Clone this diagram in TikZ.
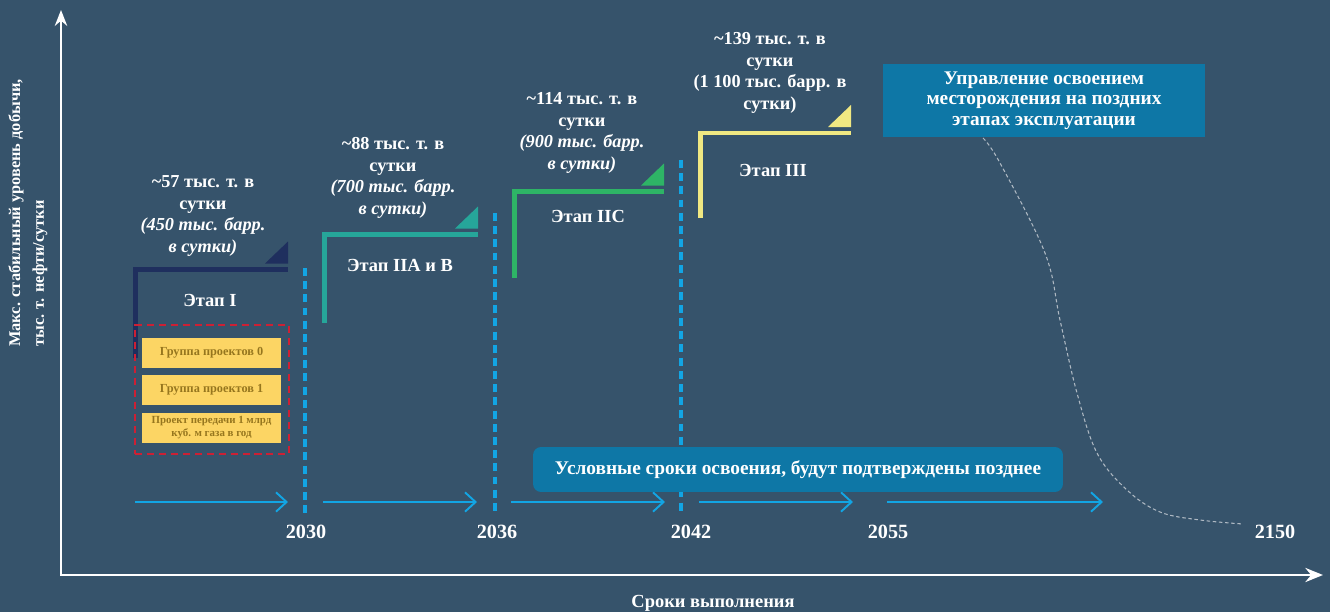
\documentclass[tikz,border=0pt]{standalone}
\usepackage{fontspec}
\setmainfont{Liberation Serif}
\usetikzlibrary{arrows.meta, positioning}
\definecolor{bgslate}{RGB}{54,83,107}
\definecolor{stageone}{RGB}{31,47,94}
\definecolor{stagetwo}{RGB}{38,166,154}
\definecolor{stagetwoc}{RGB}{46,180,102}
\definecolor{stagethree}{RGB}{240,232,130}
\definecolor{timeblue}{RGB}{18,165,228}
\definecolor{boxblue}{RGB}{14,119,166}
\definecolor{projyellow}{RGB}{252,213,100}
\definecolor{projtext}{RGB}{150,118,30}
\definecolor{groupred}{RGB}{205,32,52}
\definecolor{curvegray}{RGB}{175,185,195}
\tikzset{
    axisline/.style={white, line width=1.7pt, {Stealth[length=9pt,width=7pt]}-{Stealth[length=10pt,width=8pt]}},
    bracket/.style={line width=2.8pt},
    valuetext/.style={white, font=\fontsize{10.4}{12.2}\selectfont\bfseries, align=center, inner sep=0pt},
    stagetext/.style={white, font=\fontsize{10.5}{12}\selectfont\bfseries, inner sep=0pt},
    yearlabel/.style={white, font=\fontsize{11.5}{13}\selectfont\bfseries, inner sep=0pt},
    phaseline/.style={timeblue, line width=2pt, dash pattern=on 4.5pt off 3pt},
    timearrow/.style={timeblue, line width=1.1pt, -{Straight Barb[length=6pt,width=11pt]}},
    projbox/.style={rectangle, fill=projyellow, minimum width=2.78cm, minimum height=0.6cm, text=projtext, align=center, font=\fontsize{7}{8}\selectfont\bfseries, inner sep=0pt},
    groupbox/.style={rectangle, draw=groupred, line width=1.1pt, dash pattern=on 4pt off 2.8pt, minimum width=3.08cm, minimum height=2.58cm},
    notebox/.style={rectangle, fill=boxblue, text=white, align=center, font=\fontsize{11}{11.6}\selectfont\bfseries, inner sep=0pt}
}
\begin{document}
\begin{tikzpicture}[x=0.02cm, y=-0.02cm]
    \fill[bgslate] (0,0) rectangle (1330,612);
    \useasboundingbox (0,0) rectangle (1330,612);

    % axes
    \draw[axisline] (61,10) -- (61,575) -- (1323,575);
    \node[white, font=\fontsize{9.3}{13.6}\selectfont\bfseries, rotate=90, align=left, anchor=north west, inner sep=0pt] (ylab) at (8,347) {Макс. стабильный уровень добычи,\\тыс. т. нефти/сутки};
    \node[stagetext] (xlab) at (713,603) {Сроки выполнения};

    % phase borders
    \draw[phaseline] (305,268) -- (305,514);
    \draw[phaseline] (495,213) -- (495,514);
    \draw[phaseline] (681,160) -- (681,514);

    % stage brackets
    \foreach \x/\y/\r/\b/\c in {135.5/269.5/288/358/stageone, 324.5/234.5/478/323/stagetwo, 514.5/191.5/664/278/stagetwoc, 700.5/133/851/218/stagethree}
    {
        \draw[bracket, draw=\c] (\x,\b) |- (\r,\y);
        \fill[\c] (\r,\y-6) -- (\r,\y-28) -- (\r-23,\y-6) -- cycle;
    }

    % production levels
    \node[valuetext] (lvl1) at (203,216) {\textasciitilde57 тыс. т. в\\сутки\\\textit{(450 тыс. барр.}\\\textit{в сутки)}};
    \node[valuetext] (lvl2) at (393,178) {\textasciitilde88 тыс. т. в\\сутки\\\textit{(700 тыс. барр.}\\\textit{в сутки)}};
    \node[valuetext] (lvl3) at (582,133) {\textasciitilde114 тыс. т. в\\сутки\\\textit{(900 тыс. барр.}\\\textit{в сутки)}};
    \node[valuetext] (lvl4) at (770,73) {\textasciitilde139 тыс. т. в\\сутки\\(1 100 тыс. барр. в\\сутки)};

    \node[stagetext] (st1) at (210,300) {Этап I};
    \node[stagetext] (st2) at (400,265) {Этап IIA и B};
    \node[stagetext] (st3) at (588,216) {Этап IIC};
    \node[stagetext] (st4) at (773,170) {Этап III};

    % stage I projects
    \node[projbox] (grp0) at (211.5,353) {Группа проектов 0};
    \node[projbox] (grp1) at (211.5,390) {Группа проектов 1};
    \node[projbox, font=\fontsize{6.2}{7.4}\selectfont\bfseries] (gas) at (211.5,428) {Проект передачи 1 млрд\\куб. м газа в год};
    \node[groupbox] (stageone) at (212,389.5) {};

    % timeline
    \foreach \s/\e [count=\i] in {135/288, 323/477, 511/665, 699/853, 887/1103}
    {
        \coordinate (t\i s) at (\s,502);
        \coordinate (t\i e) at (\e,502);
        \draw[timearrow] (t\i s) -- (t\i e);
    }
    \node[yearlabel] (y2030) at (306,532) {2030};
    \node[yearlabel] (y2036) at (497,532) {2036};
    \node[yearlabel] (y2042) at (691,532) {2042};
    \node[yearlabel] (y2055) at (888,532) {2055};
    \node[yearlabel] (y2150) at (1275,532) {2150};

    \node[notebox, rounded corners=0.16cm, minimum width=10.6cm, minimum height=0.9cm] (tentative) at (798,469.5) {Условные сроки освоения, будут подтверждены позднее};
    \node[notebox, minimum width=6.44cm, minimum height=1.46cm] (late) at (1044,100.5) {Управление освоением\\месторождения на поздних\\этапах эксплуатации};

    % decline
    \coordinate (decl) at (983,138);
    \coordinate (declend) at (1243,524);
    \draw[curvegray, line width=0.6pt, dash pattern=on 2pt off 1.5pt] plot[smooth, tension=0.6] coordinates {(decl) (1000,163) (1045,253) (1060,320) (1077,393) (1097,453) (1127,490) (1160,512) (1200,520) (declend)};
\end{tikzpicture}
\end{document}
